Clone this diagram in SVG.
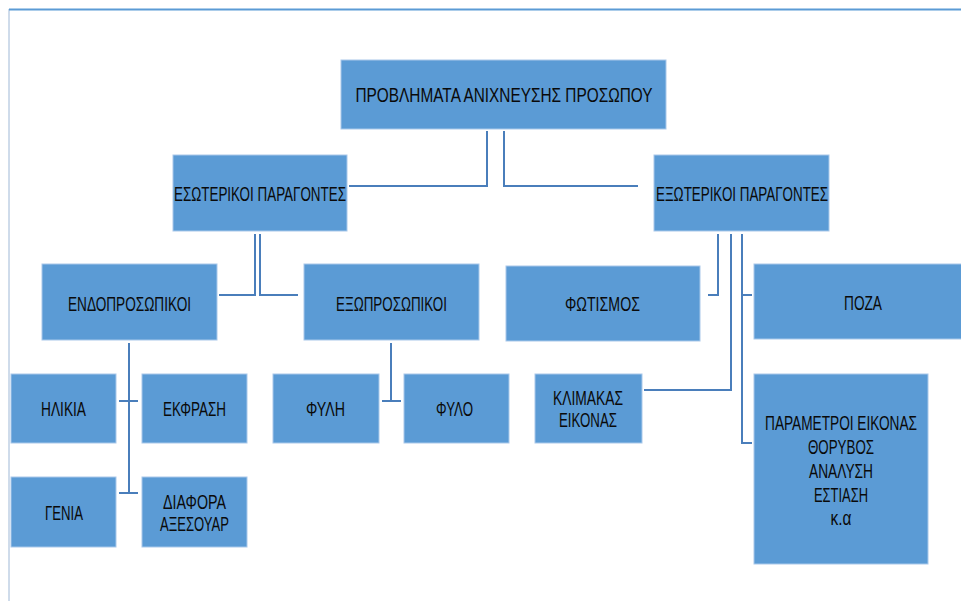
<svg xmlns="http://www.w3.org/2000/svg" width="961" height="601" viewBox="0 0 961 601">
<style>
.box{fill:#5b9bd5;stroke:#a9c8ea;stroke-width:1}
.t{font-family:"Liberation Sans Narrow","Liberation Sans",Arial,sans-serif;font-size:21px;fill:#0a0a0a;text-anchor:middle}
.c{fill:none;stroke:#4a7ebb;stroke-width:2}
</style>
<rect width="961" height="601" fill="#fff"/>
<line x1="9" y1="9" x2="9" y2="601" stroke="#9fb8d6" stroke-width="1"/>
<line x1="9" y1="9.5" x2="961" y2="9.5" stroke="#5b9bd5" stroke-width="2"/>
<g id="connectors">
<path class="c" d="M487 131V186H349"/>
<path class="c" d="M504 131V186H638"/>
<path class="c" d="M255 234V295H219"/>
<path class="c" d="M260 234V295H298"/>
<path class="c" d="M718 234V295H708"/>
<path class="c" d="M731 234V390H644"/>
<path class="c" d="M742 234V443H752"/>
<path class="c" d="M742 295H752"/>
<path class="c" d="M129 343V493"/>
<path class="c" d="M119 401H138"/>
<path class="c" d="M119 493H138"/>
<path class="c" d="M391 343V401"/>
<path class="c" d="M382 401H401"/>
</g>
<g id="root"><rect class="box" x="341" y="60" width="325" height="69"/><text class="t" x="504" y="101.5" textLength="297" lengthAdjust="spacingAndGlyphs">ΠΡΟΒΛΗΜΑΤΑ ΑΝΙΧΝΕΥΣΗΣ ΠΡΟΣΩΠΟΥ</text></g>
<g id="esoterikoi"><rect class="box" x="173" y="155" width="174" height="76"/><text class="t" x="260" y="200.5" textLength="172" lengthAdjust="spacingAndGlyphs">ΕΣΩΤΕΡΙΚΟΙ ΠΑΡΑΓΟΝΤΕΣ</text></g>
<g id="exoterikoi"><rect class="box" x="654" y="155" width="175" height="76"/><text class="t" x="742" y="200.5" textLength="172" lengthAdjust="spacingAndGlyphs">ΕΞΩΤΕΡΙΚΟΙ ΠΑΡΑΓΟΝΤΕΣ</text></g>
<g id="endoprosopikoi"><rect class="box" x="42" y="264" width="175" height="76"/><text class="t" x="129.5" y="310.5" textLength="123" lengthAdjust="spacingAndGlyphs">ΕΝΔΟΠΡΟΣΩΠΙΚΟΙ</text></g>
<g id="exoprosopikoi"><rect class="box" x="304" y="264" width="175" height="76"/><text class="t" x="391.5" y="310.5" textLength="111" lengthAdjust="spacingAndGlyphs">ΕΞΩΠΡΟΣΩΠΙΚΟΙ</text></g>
<g id="fotismos"><rect class="box" x="506" y="266" width="194" height="75"/><text class="t" x="602.5" y="310.5" textLength="75" lengthAdjust="spacingAndGlyphs">ΦΩΤΙΣΜΟΣ</text></g>
<g id="poza"><rect class="box" x="754" y="264" width="210" height="75"/><text class="t" x="863" y="309.5" textLength="38" lengthAdjust="spacingAndGlyphs">ΠΟΖΑ</text></g>
<g id="ilikia"><rect class="box" x="11" y="374" width="105" height="69"/><text class="t" x="63.5" y="415.5" textLength="45" lengthAdjust="spacingAndGlyphs">ΗΛΙΚΙΑ</text></g>
<g id="ekfrasi"><rect class="box" x="142" y="374" width="105" height="69"/><text class="t" x="194.5" y="415.5" textLength="63" lengthAdjust="spacingAndGlyphs">ΕΚΦΡΑΣΗ</text></g>
<g id="genia"><rect class="box" x="11" y="477" width="105" height="70"/><text class="t" x="64" y="519.5" textLength="38" lengthAdjust="spacingAndGlyphs">ΓΕΝΙΑ</text></g>
<g id="diafora"><rect class="box" x="142" y="477" width="105" height="70"/><text class="t" x="194.5" y="508.5" textLength="63" lengthAdjust="spacingAndGlyphs">ΔΙΑΦΟΡΑ</text><text class="t" x="194.5" y="530.5" textLength="69" lengthAdjust="spacingAndGlyphs">ΑΞΕΣΟΥΑΡ</text></g>
<g id="fyli"><rect class="box" x="273" y="374" width="106" height="69"/><text class="t" x="325.5" y="415.5" textLength="39" lengthAdjust="spacingAndGlyphs">ΦΥΛΗ</text></g>
<g id="fylo"><rect class="box" x="404" y="374" width="105" height="69"/><text class="t" x="454.5" y="415.5" textLength="37" lengthAdjust="spacingAndGlyphs">ΦΥΛΟ</text></g>
<g id="klimakas"><rect class="box" x="535" y="374" width="107" height="69"/><text class="t" x="588" y="404.5" textLength="70" lengthAdjust="spacingAndGlyphs">ΚΛΙΜΑΚΑΣ</text><text class="t" x="588" y="426.5" textLength="58" lengthAdjust="spacingAndGlyphs">ΕΙΚΟΝΑΣ</text></g>
<g id="parametroi"><rect class="box" x="754" y="374" width="174" height="190"/>
<text class="t" transform="translate(841 429.5) scale(0.68 1)" x="0" y="0" textLength="223.5" lengthAdjust="spacingAndGlyphs">ΠΑΡΑΜΕΤΡΟΙ ΕΙΚΟΝΑΣ</text>
<text class="t" x="841" y="453.5" textLength="66" lengthAdjust="spacingAndGlyphs">ΘΟΡΥΒΟΣ</text>
<text class="t" x="841" y="477.5" textLength="64" lengthAdjust="spacingAndGlyphs">ΑΝΑΛΥΣΗ</text>
<text class="t" x="841" y="501.5" textLength="54" lengthAdjust="spacingAndGlyphs">ΕΣΤΙΑΣΗ</text>
<text class="t" x="841" y="524.5" textLength="21" lengthAdjust="spacingAndGlyphs">κ.α</text></g>
</svg>
